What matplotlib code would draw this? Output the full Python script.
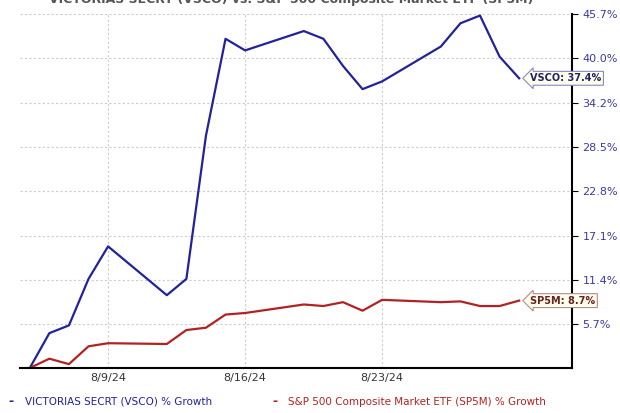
import matplotlib
matplotlib.use("Agg")
import matplotlib.pyplot as plt
import numpy as np

days = [5,6,7,8,9,12,13,14,15,16,19,20,21,22,23,26,27,28,29,30]
vsco = [0,4.5,5.5,11.5,15.7,9.4,11.5,30,42.5,41,43.5,42.5,39,36,37,41.5,44.5,45.5,40.2,37.4]
sp5m = [0,1.2,0.5,2.8,3.2,3.1,4.9,5.2,6.9,7.1,8.2,8.0,8.5,7.4,8.8,8.5,8.6,8.0,8.0,8.7]
yticks = [5.7,11.4,17.1,22.8,28.5,34.2,40.0,45.7]
xtick_days = [9,16,23]
xtick_labels = ["8/9/24","8/16/24","8/23/24"]

blue = "#22229a"
red = "#b22222"
fig = plt.figure(figsize=(6.2,4.13), dpi=100)
ax = fig.add_axes([20/620, 45/413, 552/620, 354/413])
ax.plot(days, vsco, color=blue, lw=1.6)
ax.plot(days, sp5m, color=red, lw=1.6)
ax.set_xlim(4.5, 32.7)
ax.set_ylim(0, 45.7)
ax.yaxis.tick_right()
ax.set_yticks(yticks)
ax.set_yticklabels([f"{v:.1f}%" for v in yticks], color="#3a3aa0", fontsize=8)
ax.set_xticks(xtick_days)
ax.set_xticklabels(xtick_labels, fontsize=8, color="#333333")
ax.grid(True, linestyle=(0,(2,2)), color="#cccccc", lw=0.8)
for s in ["top","left"]:
    ax.spines[s].set_visible(False)
ax.spines["bottom"].set_linewidth(1.5)
ax.spines["right"].set_linewidth(1.5)
ax.tick_params(axis="x", length=0)
ax.tick_params(axis="y", length=4)
ax.annotate(f"VSCO: {vsco[-1]}%", (days[-1], vsco[-1]), xytext=(8,0), textcoords="offset points",
            fontsize=7, color="#222266", fontweight="bold", va="center",
            bbox=dict(boxstyle="larrow,pad=0.2", fc="#ffffee", ec="#8888bb", lw=0.8))
ax.annotate(f"SP5M: {sp5m[-1]}%", (days[-1], sp5m[-1]), xytext=(8,0), textcoords="offset points",
            fontsize=7, color="#662222", fontweight="bold", va="center",
            bbox=dict(boxstyle="larrow,pad=0.2", fc="#ffffee", ec="#bb8888", lw=0.8))
fig.text(0.47, 1.0, "VICTORIAS SECRT (VSCO) vs. S&P 500 Composite Market ETF (SP5M)", ha="center",
         va="center", fontsize=9, color="#555555", fontweight="bold")
fig.text(0.015, 0.027, "- ", color=blue, fontsize=9, fontweight="bold", va="center")
fig.text(0.04, 0.027, "VICTORIAS SECRT (VSCO) % Growth", color=blue, fontsize=7.5, va="center")
fig.text(0.44, 0.027, "- ", color=red, fontsize=9, fontweight="bold", va="center")
fig.text(0.465, 0.027, "S&P 500 Composite Market ETF (SP5M) % Growth", color=red, fontsize=7.5, va="center")
fig.savefig("out.png", dpi=100)
